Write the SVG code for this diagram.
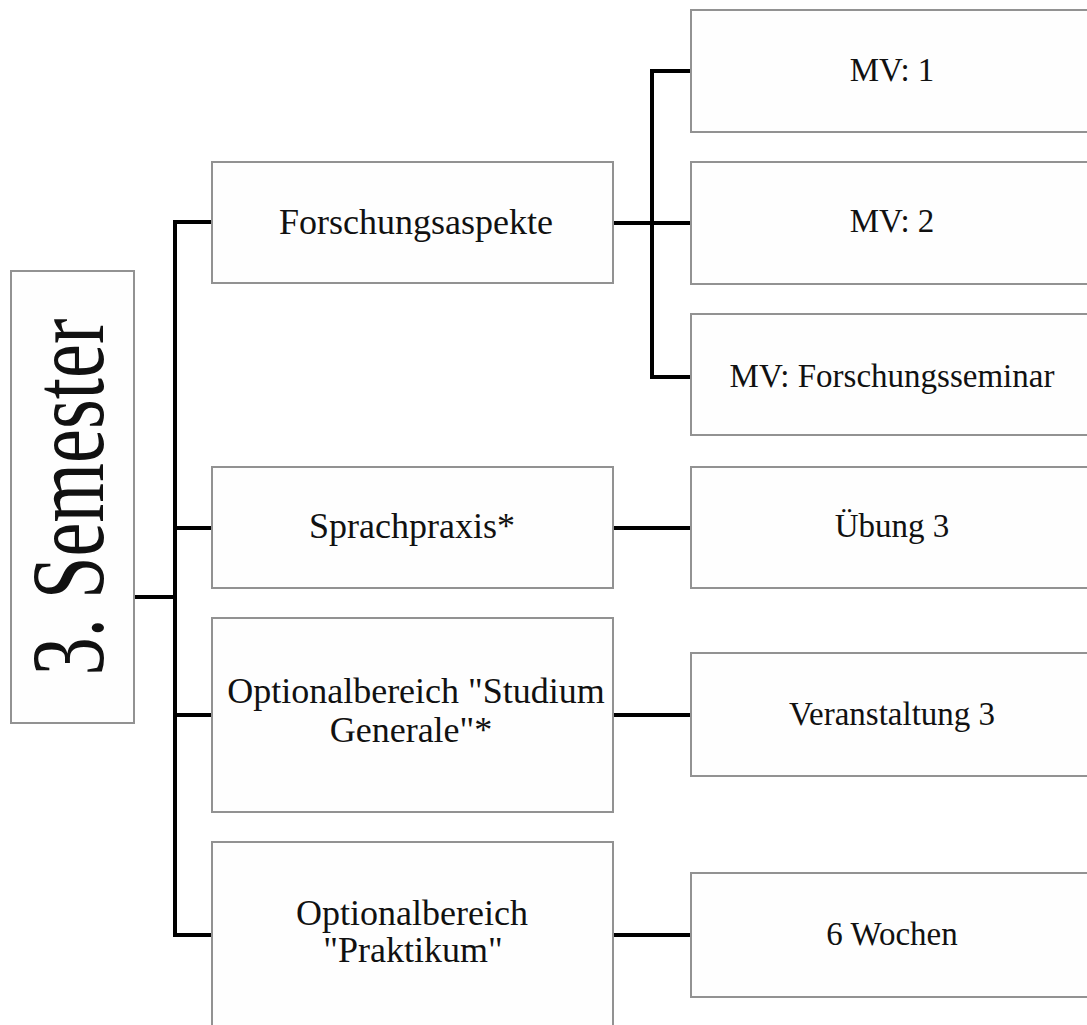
<svg xmlns="http://www.w3.org/2000/svg" width="1087" height="1025" viewBox="0 0 1087 1025">
<style>
.box{fill:#fefefe;stroke:#929292;stroke-width:2}
.t{font-family:"Liberation Serif","Times New Roman",serif;font-size:33px;fill:#111;text-anchor:middle}
.l{font-size:36px}
.c{stroke:#000;stroke-width:4;fill:none;stroke-linecap:square}
</style>
<rect width="1087" height="1025" fill="#ffffff"/>
<g id="connectors">
<path class="c" d="M134 597H175M175 222V935M175 222H212M175 528H212M175 715H212M175 935H212"/>
<path class="c" d="M613 223H691M652 71V377M652 71H691M652 377H691"/>
<path class="c" d="M613 528H691M613 715H691M613 935H691"/>
</g>
<g id="semester">
<rect class="box" x="11" y="271" width="123" height="452"/>
<text class="t" transform="translate(103,497) rotate(-90)" style="font-size:104px" textLength="357" lengthAdjust="spacingAndGlyphs">3. Semester</text>
</g>
<g id="forschungsaspekte">
<rect class="box" x="212" y="162" width="401" height="121"/>
<text class="t l" x="416" y="234">Forschungsaspekte</text>
</g>
<g id="mv1">
<rect class="box" x="691" y="10" width="402" height="122"/>
<text class="t" x="892" y="81">MV: 1</text>
</g>
<g id="mv2">
<rect class="box" x="691" y="162" width="402" height="122"/>
<text class="t" x="892" y="232">MV: 2</text>
</g>
<g id="mvfs">
<rect class="box" x="691" y="314" width="402" height="121"/>
<text class="t" x="892" y="387">MV: Forschungsseminar</text>
</g>
<g id="sprachpraxis">
<rect class="box" x="212" y="467" width="401" height="121"/>
<text class="t l" x="412" y="538">Sprachpraxis*</text>
</g>
<g id="uebung3">
<rect class="box" x="691" y="467" width="402" height="121"/>
<text class="t" x="892" y="537">Übung 3</text>
</g>
<g id="studium">
<rect class="box" x="212" y="618" width="401" height="194"/>
<text class="t l" x="416" y="703">Optionalbereich "Studium</text>
<text class="t l" x="411" y="742">Generale"*</text>
</g>
<g id="veranstaltung3">
<rect class="box" x="691" y="653" width="402" height="123"/>
<text class="t" x="892" y="725">Veranstaltung 3</text>
</g>
<g id="praktikum">
<rect class="box" x="212" y="842" width="401" height="190"/>
<text class="t l" x="412" y="925">Optionalbereich</text>
<text class="t l" x="413" y="962">"Praktikum"</text>
</g>
<g id="wochen">
<rect class="box" x="691" y="873" width="402" height="124"/>
<text class="t" x="892" y="945">6 Wochen</text>
</g>
</svg>
